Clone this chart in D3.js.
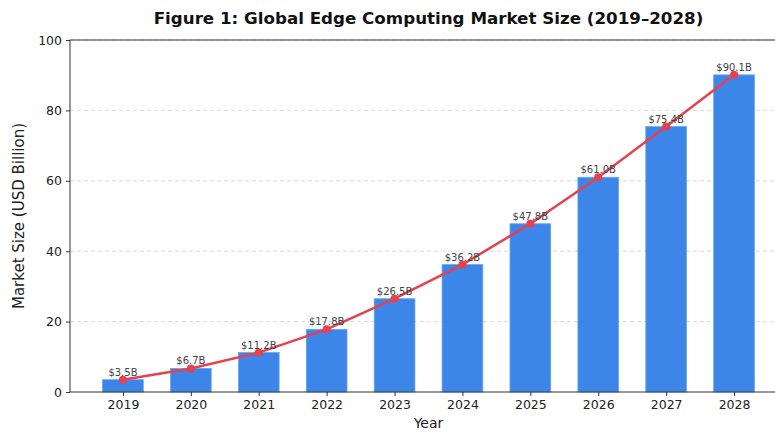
<!DOCTYPE html>
<html>
<head>
<meta charset="utf-8">
<script src="https://cdn.jsdelivr.net/npm/d3@7"></script>
<style>
  body { margin: 0; background: #fff; }
  svg { font-family: "DejaVu Sans", sans-serif; }
</style>
</head>
<body>
<svg id="chart" width="775" height="434"></svg>
<script>
const years = ['2019', '2020', '2021', '2022', '2023', '2024', '2025', '2026', '2027', '2028'];
const marketSize = [3.5, 6.7, 11.2, 17.8, 26.5, 36.2, 47.8, 61.0, 75.4, 90.1];
const yTicks = [0, 20, 40, 60, 80, 100];

const width = 775;
const height = 434;
const margin = { top: 40, right: -12, bottom: 42, left: 70 };
const innerW = width - margin.left - margin.right;
const innerH = height - margin.top - margin.bottom;

const svg = d3.select('#chart');
const g = svg.append('g').attr('transform', `translate(${margin.left},${margin.top})`);

// matplotlib-like x limits: -0.78 .. 9.78
const x = d3.scaleLinear().domain([-0.78, years.length - 1 + 0.78]).range([0, innerW]);
const y = d3.scaleLinear().domain([0, 100]).range([innerH, 0]);
const step = x(1) - x(0);
const barW = step * 0.6;

// grid
g.append('g')
    .selectAll('line')
    .data(yTicks.slice(1))
    .join('line')
    .attr('x1', 0)
    .attr('x2', innerW)
    .attr('y1', d => y(d))
    .attr('y2', d => y(d))
    .attr('stroke', '#d0d0d0')
    .attr('stroke-width', 0.8)
    .attr('stroke-dasharray', '4,3');

// bars
g.append('g')
    .selectAll('rect')
    .data(marketSize)
    .join('rect')
    .attr('x', (d, i) => x(i) - barW / 2)
    .attr('y', d => y(d))
    .attr('width', barW)
    .attr('height', d => innerH - y(d))
    .attr('fill', '#3b86e8')
    .attr('stroke', '#6aa6f0')
    .attr('stroke-width', 0.8);

// line
const line = d3.line().x((d, i) => x(i)).y(d => y(d));
g.append('path')
    .datum(marketSize)
    .attr('d', line)
    .attr('fill', 'none')
    .attr('stroke', '#e5414e')
    .attr('stroke-width', 2.5);

g.append('g')
    .selectAll('circle')
    .data(marketSize)
    .join('circle')
    .attr('cx', (d, i) => x(i))
    .attr('cy', d => y(d))
    .attr('r', 4)
    .attr('fill', '#e5414e');

// value labels
g.append('g')
    .selectAll('text')
    .data(marketSize)
    .join('text')
    .attr('x', (d, i) => x(i))
    .attr('y', d => y(d) - 4)
    .attr('text-anchor', 'middle')
    .attr('font-size', 10)
    .attr('fill', '#444')
    .text(d => `$${d.toFixed(1)}B`);

// axes
const xAxis = d3.axisBottom(x)
    .tickValues(d3.range(years.length))
    .tickFormat(i => years[i])
    .tickSize(4)
    .tickPadding(4);
g.append('g')
    .attr('transform', `translate(0,${innerH})`)
    .call(xAxis)
    .call(a => a.select('.domain').remove())
    .call(a => a.selectAll('text').attr('font-size', 12.5).attr('fill', '#222').attr('font-family', '"DejaVu Sans", sans-serif'))
    .call(a => a.selectAll('line').attr('stroke', '#333'));

const yAxis = d3.axisLeft(y)
    .tickValues(yTicks)
    .tickSize(4)
    .tickPadding(4);
g.append('g')
    .call(yAxis)
    .call(a => a.select('.domain').remove())
    .call(a => a.selectAll('text').attr('font-size', 12.5).attr('fill', '#222').attr('font-family', '"DejaVu Sans", sans-serif'))
    .call(a => a.selectAll('line').attr('stroke', '#333'));

// spines
g.append('rect')
    .attr('x', 0)
    .attr('y', 0)
    .attr('width', innerW)
    .attr('height', innerH)
    .attr('fill', 'none')
    .attr('stroke', '#333')
    .attr('stroke-width', 1);

// titles
svg.append('text')
    .attr('x', margin.left + innerW / 2)
    .attr('y', 24)
    .attr('text-anchor', 'middle')
    .attr('font-size', 16.7)
    .attr('font-weight', 'bold')
    .attr('fill', '#111')
    .text('Figure 1: Global Edge Computing Market Size (2019–2028)');

svg.append('text')
    .attr('x', margin.left + innerW / 2)
    .attr('y', 428)
    .attr('text-anchor', 'middle')
    .attr('font-size', 14)
    .attr('fill', '#222')
    .text('Year');

svg.append('text')
    .attr('transform', `translate(24,${margin.top + innerH / 2}) rotate(-90)`)
    .attr('text-anchor', 'middle')
    .attr('font-size', 15)
    .attr('fill', '#222')
    .text('Market Size (USD Billion)');
</script>
</body>
</html>
